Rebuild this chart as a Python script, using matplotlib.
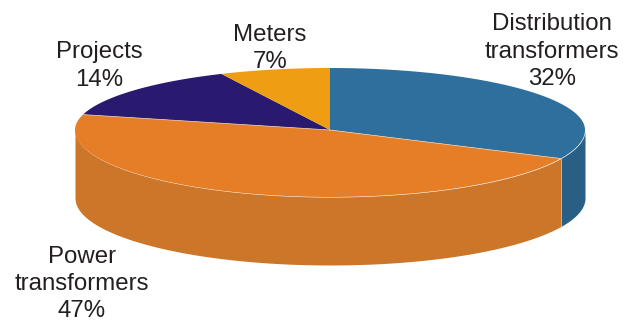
import numpy as np
import matplotlib
matplotlib.use("Agg")
import matplotlib.pyplot as plt

plt.rcParams['font.family'] = ['Liberation Sans', 'DejaVu Sans']

# Product mix, clockwise from twelve o'clock
categories = ["Distribution\ntransformers", "Power\ntransformers", "Projects", "Meters"]
shares = [32, 47, 14, 7]
top_colors = ["#2e6f9e", "#e67e28", "#29196f", "#ef9d13"]
side_colors = ["#2a5f85", "#cb7628", "#29196f", "#ef9d13"]

W, H = 633, 322
CX, CY, RX = 330.0, 130.0, 255.0
RY_FRONT, RY_BACK, DEPTH = 67.0, 62.0, 68.0

fig = plt.figure(figsize=(W / 100, H / 100), dpi=100)
ax = fig.add_axes([0, 0, 1, 1])


def outline(deg):
    """Perimeter point at a clockwise angle from the top, in pixels; the near half is deeper."""
    t = np.radians(deg)
    c = np.cos(t)
    return CX + RX * np.sin(t), CY - np.where(c > 0, RY_BACK, RY_FRONT) * c


edges = np.concatenate([[0], np.cumsum(shares)]) / sum(shares) * 360.0

# Rim of the disc: only the front half (right-most to left-most point) is visible
for start, end, color in zip(edges[:-1], edges[1:], side_colors):
    lo, hi = max(start, 90.0), min(end, 270.0)
    if hi <= lo:
        continue
    x, y = outline(np.linspace(lo, hi, 80))
    ax.fill_between(x, y, y + DEPTH, color=color, lw=0, zorder=1)
    if end < 270.0:
        ax.plot([x[-1]] * 2, [y[-1], y[-1] + DEPTH], color="#e9c39c", lw=0.5, zorder=2)

# Top face, with thin light seams along the radii only
for start, end, color in zip(edges[:-1], edges[1:], top_colors):
    x, y = outline(np.linspace(start, end, 160))
    ax.fill(np.r_[CX, x], np.r_[CY, y], color=color, lw=0, zorder=3)
for angle in edges[1:3]:
    x, y = outline(angle)
    ax.plot([CX, x], [CY, y], color="#f0d2b0", lw=0.5, zorder=4)

ax.set_xlim(0, W)
ax.set_ylim(H, 0)
ax.axis("off")

# Slice labels, placed in figure pixels
label_px = [(552, 51.5), (82, 284), (99, 66), (270, 48.5)]
for name, share, (px, py) in zip(categories, shares, label_px):
    ax.text(px, py, f"{name}\n{share}%", ha="center", va="center",
            fontsize=17.3, color="#231f20", linespacing=1.32, zorder=5)

fig.savefig("out.png", dpi=100)
